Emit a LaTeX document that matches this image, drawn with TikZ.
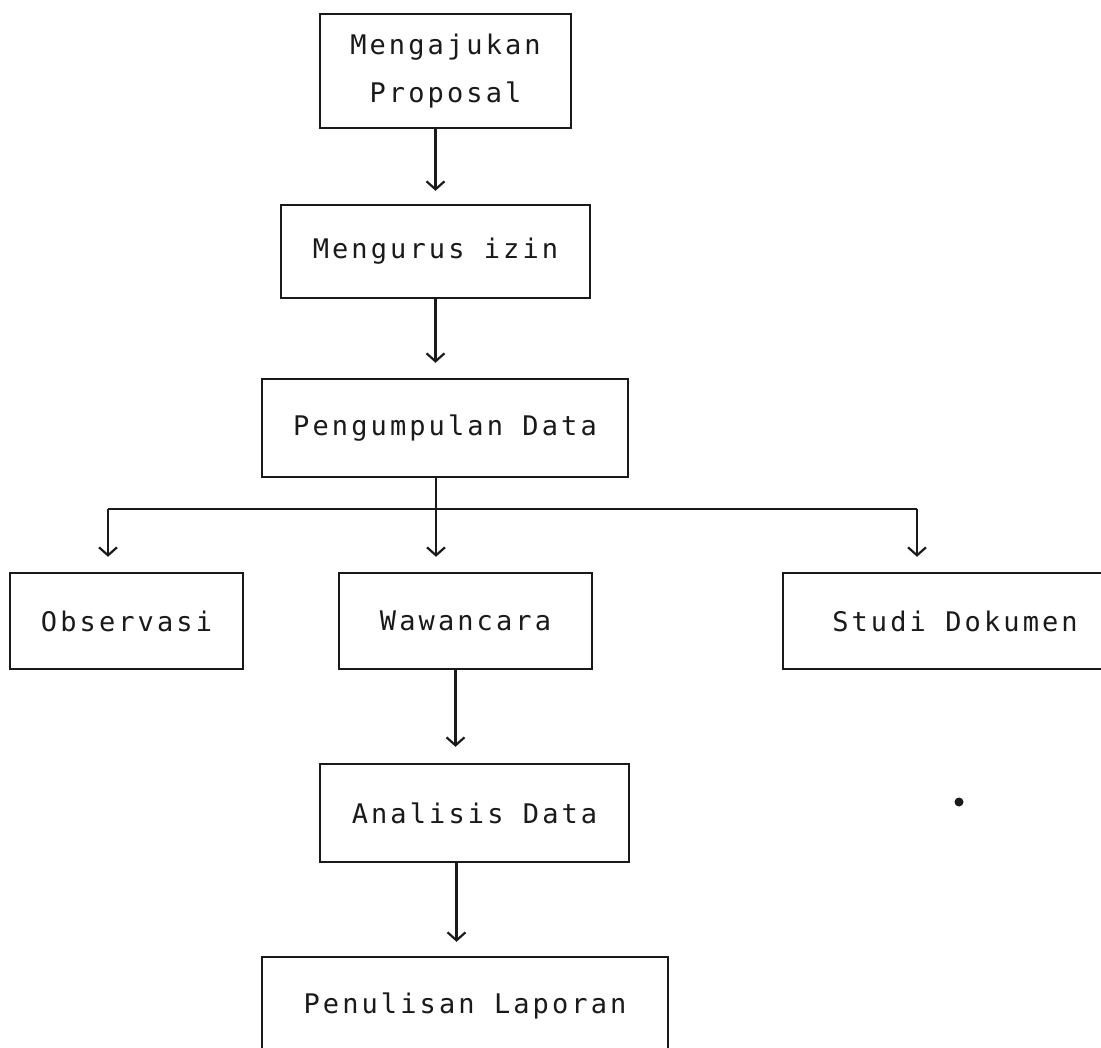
\documentclass[tikz,border=0pt]{standalone}
\usepackage{fontspec}
\newfontfamily\boxfont[LetterSpace=11.5]{DejaVu Sans Mono}
\usetikzlibrary{arrows.meta}
\definecolor{ink}{HTML}{1A1A1A}
\begin{document}
\begin{tikzpicture}[x=1pt,y=-1pt,
  box/.style={draw=ink, line width=2.4pt, inner sep=0pt, text=ink, align=center,
    font={\boxfont\fontsize{27}{48}\selectfont}},
  arr/.style={draw=ink, line width=2.2pt, -{Straight Barb[length=8pt,width=18pt,line width=2.2pt]}},
  link/.style={draw=ink, line width=2.2pt}]
\fill[white] (0,0) rectangle (1101,1048);
\useasboundingbox (0,0) rectangle (1101,1048);
\clip (0,0) rectangle (1101,1048);

\node[box, minimum width=251pt, minimum height=114pt] (b1) at (445.5,71) {Mengajukan\\Proposal};
\node[box, minimum width=309pt, minimum height=93pt] (b2) at (435.5,251.5) {Mengurus izin};
\node[box, minimum width=366pt, minimum height=98pt] (b3) at (445,428) {Pengumpulan Data};
\node[box, minimum width=233pt, minimum height=96pt] (obs) at (126.5,621) {Observasi};
\node[box, minimum width=253pt, minimum height=96pt] (waw) at (465.5,621) {Wawancara};
\node[box, minimum width=344pt, minimum height=96pt] (stu) at (955,621) {Studi Dokumen};
\node[box, minimum width=309pt, minimum height=98pt] (ana) at (474.5,813) {Analisis Data};
\node[box, minimum width=406pt, minimum height=98pt] (pen) at (465,1006) {Penulisan Laporan};

\coordinate (fl) at (108,509);
\coordinate (fm) at (436,509);
\coordinate (fr) at (917,509);

\draw[arr, shorten >=13pt] (b1.south -| b2.north) -- (b2.north);
\draw[arr, shorten >=15pt] (b2.south) -- (b3.north -| b2.south);
\draw[link] (fl) -- (fr);
\draw[arr, shorten >=15pt] (b3.south -| fm) -- (fm |- waw.north);
\draw[arr, shorten >=15pt] (fl) -- (fl |- obs.north);
\draw[arr, shorten >=15pt] (fr) -- (fr |- stu.north);
\draw[arr, shorten >=16pt] ([xshift=-10pt]waw.south) -- ([xshift=-10pt]waw.south |- ana.north);
\draw[arr, shorten >=14pt] ([xshift=-18pt]ana.south) -- ([xshift=-18pt]ana.south |- pen.north);

\fill[ink] (959,802) circle (4.5pt);
\end{tikzpicture}
\end{document}
